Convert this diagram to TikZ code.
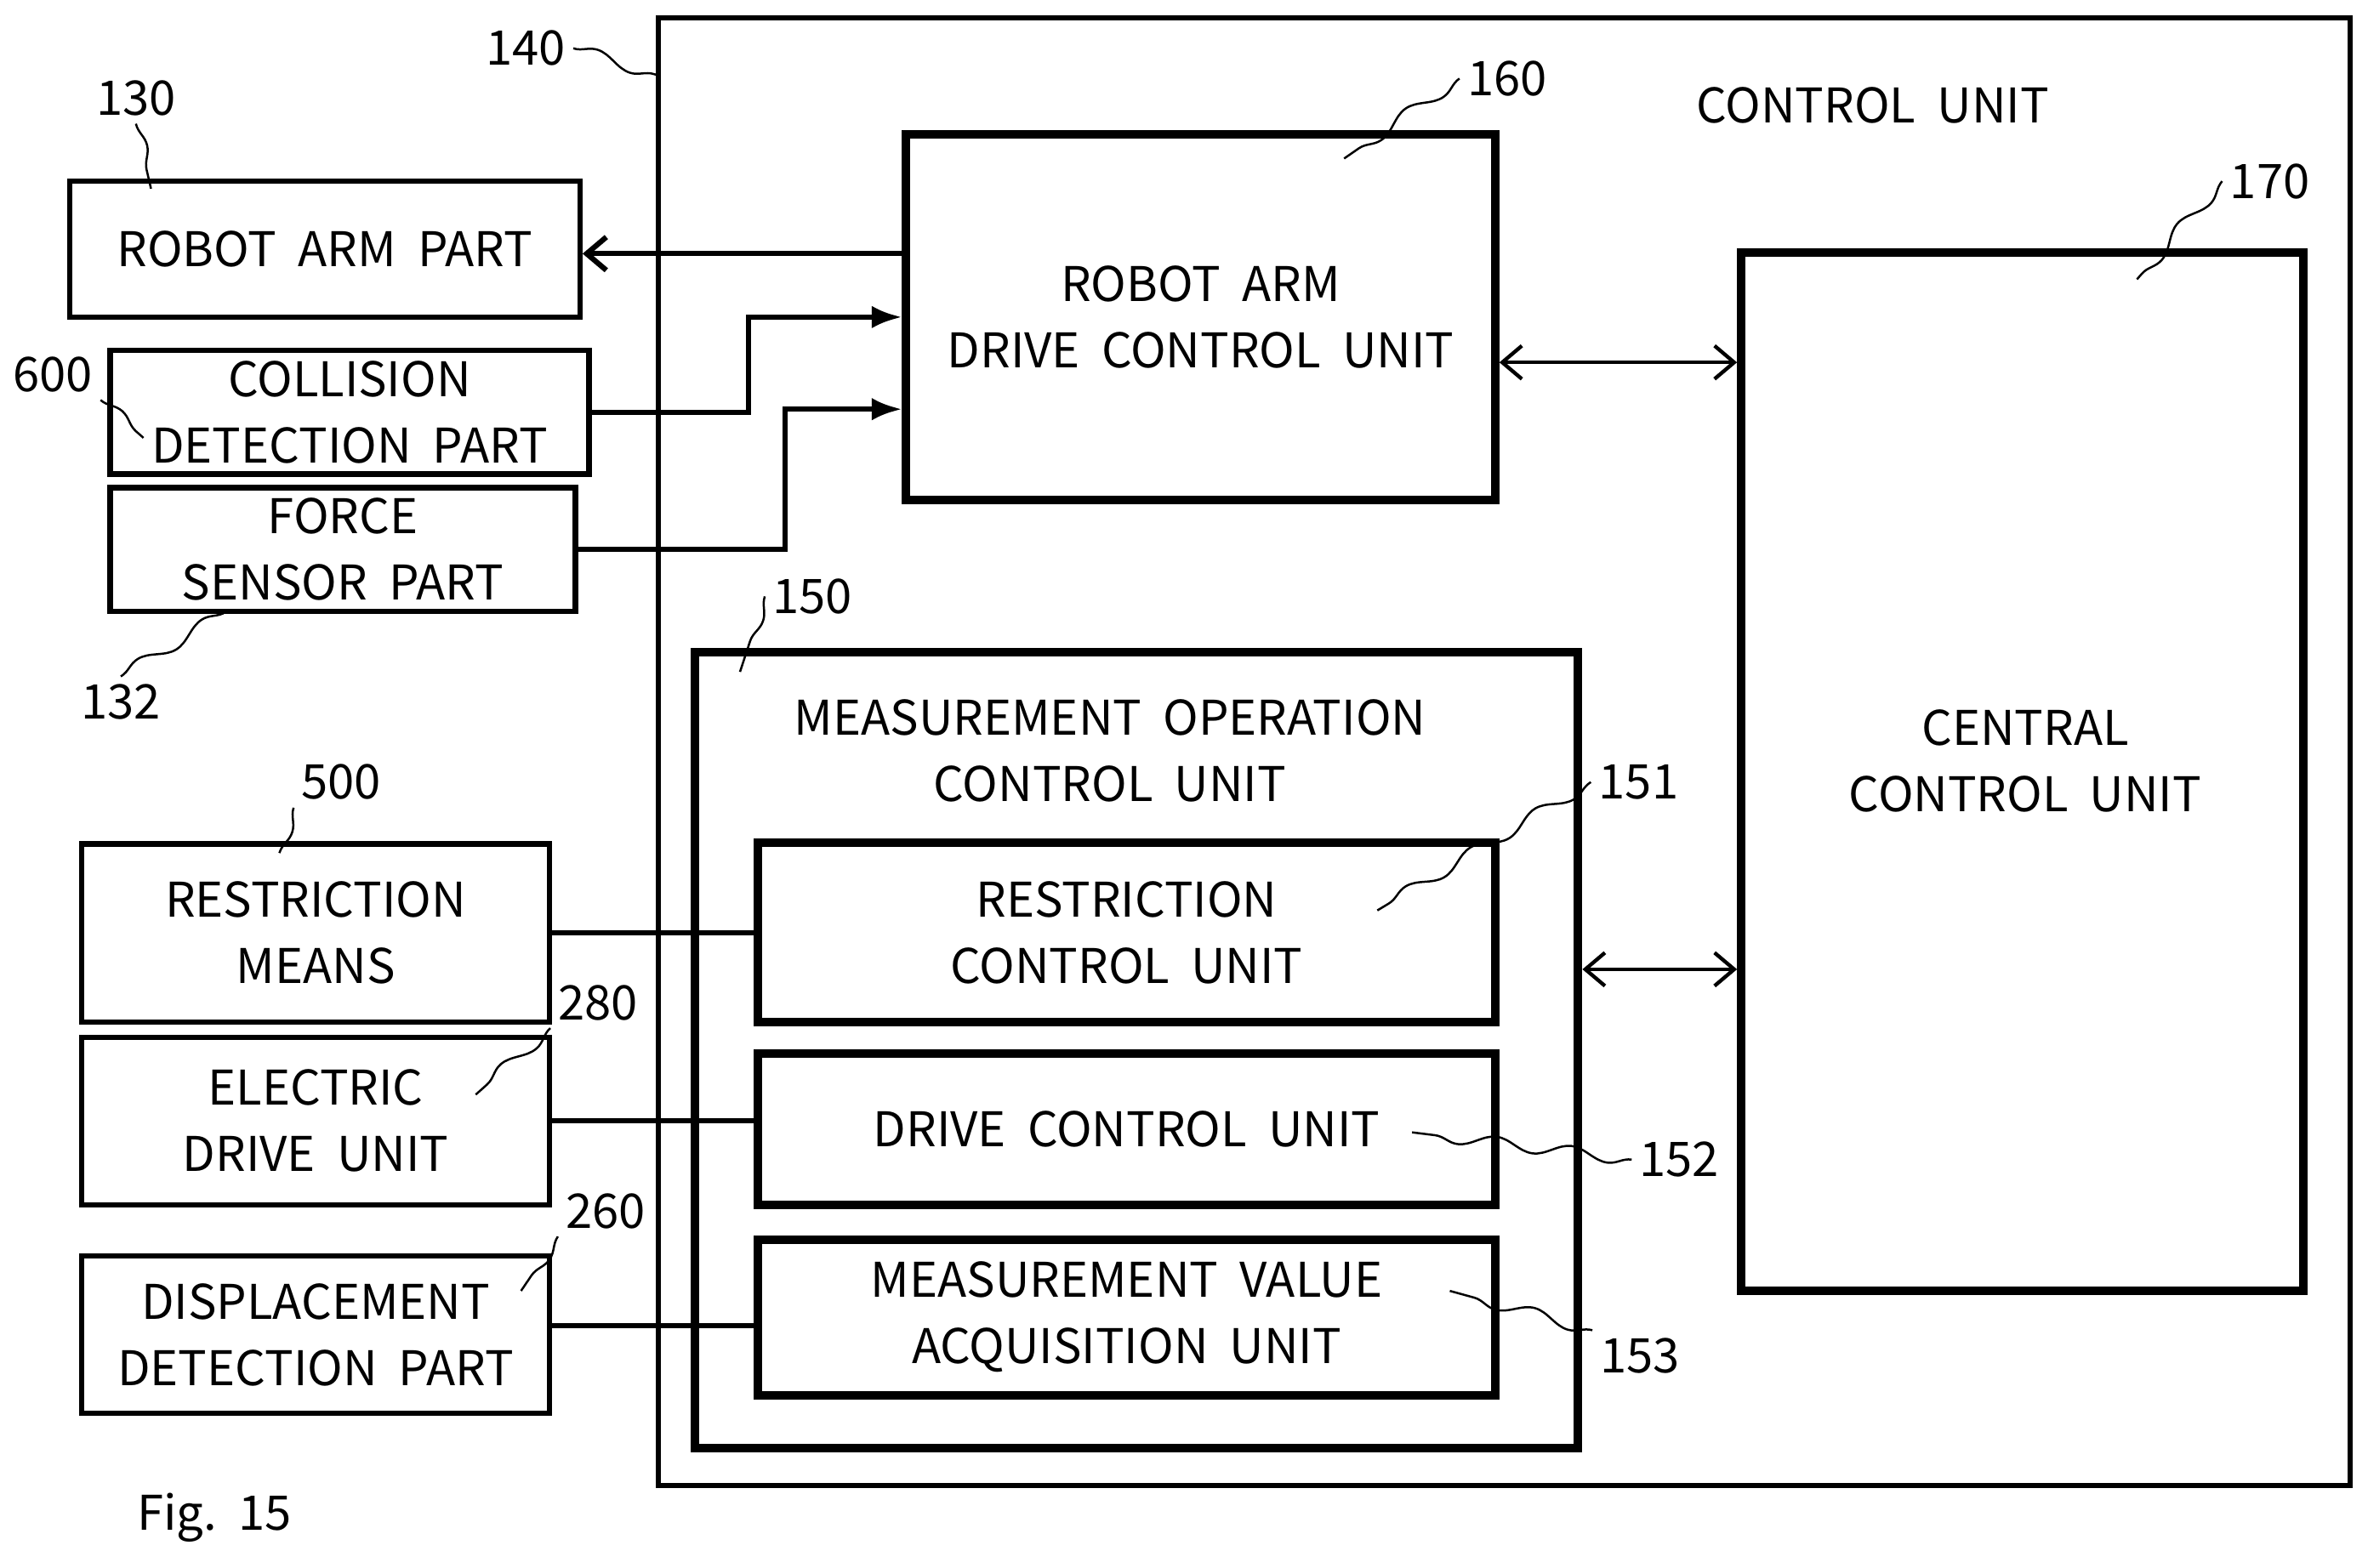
\documentclass[tikz,border=0pt]{standalone}
\usepackage{fontspec}
\setmainfont{Noto Sans CJK JP}
\usetikzlibrary{arrows.meta, calc, decorations.pathmorphing}

\tikzset{
  blk/.style={draw, line width=1pt, align=center, inner sep=0pt},
  bold/.style={draw, line width=1.6pt, align=center, inner sep=0pt},
  lead/.style={decorate, decoration={snake, amplitude=0.4mm, segment length=5mm}, line width=0.4pt},
  ref/.style={inner sep=1pt},
  >={Straight Barb[length=1.3mm, width=2.2mm]}
}

\begin{document}
\begin{tikzpicture}[font=\fontsize{9}{12.5}\selectfont, line width=1pt]
\useasboundingbox (0,0) rectangle (15.68,-10.38);

% outer unit and external parts
\path (9.96,-4.98) node[blk, minimum width=11.20cm, minimum height=9.72cm] (ctrl) {}
      (2.15,-1.65) node[blk, minimum width=3.38cm, minimum height=0.90cm] (arm) {ROBOT~~ARM~~PART}
      (2.315,-2.73) node[blk, minimum width=3.17cm, minimum height=0.82cm] (coll) {COLLISION\\DETECTION~~PART}
      (2.27,-3.64) node[blk, minimum width=3.08cm, minimum height=0.82cm] (force) {FORCE\\SENSOR~~PART}
      (2.09,-6.18) node[blk, minimum width=3.10cm, minimum height=1.18cm] (rmeans) {RESTRICTION\\MEANS}
      (2.09,-7.425) node[blk, minimum width=3.10cm, minimum height=1.11cm] (edrive) {ELECTRIC\\DRIVE~~UNIT}
      (2.09,-8.84) node[blk, minimum width=3.10cm, minimum height=1.04cm] (disp) {DISPLACEMENT\\DETECTION~~PART};

% units inside the control unit
\path (7.95,-2.10) node[bold, minimum width=3.90cm, minimum height=2.42cm] (radc) {ROBOT~~ARM\\DRIVE~~CONTROL~~UNIT}
      (13.39,-5.11) node[bold, minimum width=3.72cm, minimum height=6.88cm] (cen) {}
      (7.525,-6.955) node[bold, minimum width=5.85cm, minimum height=5.27cm] (meas) {}
      (7.46,-6.175) node[bold, minimum width=4.88cm, minimum height=1.19cm] (rctl) {RESTRICTION\\CONTROL~~UNIT}
      (7.46,-7.48) node[bold, minimum width=4.88cm, minimum height=1.00cm] (dctl) {DRIVE~~CONTROL~~UNIT}
      (7.46,-8.725) node[bold, minimum width=4.88cm, minimum height=1.03cm] (mva) {MEASUREMENT~~VALUE\\ACQUISITION~~UNIT};

\node[align=center] (cenlbl) at (13.41,-5.04) {CENTRAL\\CONTROL~~UNIT};
\node[align=center] (measlbl) at (7.35,-4.97) {MEASUREMENT~~OPERATION\\CONTROL~~UNIT};
\node (ctrllbl) at (12.40,-0.70) {CONTROL~~UNIT};
\node (fig) at (1.42,-10.05) {Fig.~~15};

% connectors
\draw[->] (radc.west |- 0,-1.68) -- (arm.east |- 0,-1.68);
\draw[-{Latex[length=2mm]}] (coll.east) -- ++(1.04,0) |- (radc.west);
\draw[-{Latex[length=2mm]}] (force.east) -- ++(1.37,0) |- ($(radc.west)+(0,-0.61)$);
\draw[line width=0.7pt, <->] ($(radc.east)+(0,-0.30)$) -- ($(radc.east -| cen.west)+(0,-0.30)$);
\draw[line width=0.7pt, <->] ($(meas.east)+(0,0.535)$) -- ($(meas.east -| cen.west)+(0,0.535)$);
\draw (rmeans.east) -- (rmeans.east -| rctl.west);
\draw (edrive.east) -- (edrive.east -| dctl.west);
\draw (disp.east |- 0,-8.78) -- (mva.west |- 0,-8.78);

% reference numerals
\path (0.90,-0.65) node[ref] (n130) {130}
      (0.35,-2.48) node[ref] (n600) {600}
      (0.80,-4.65) node[ref] (n132) {132}
      (3.48,-0.32) node[ref] (n140) {140}
      (9.98,-0.52) node[ref] (n160) {160}
      (15.03,-1.20) node[ref] (n170) {170}
      (5.38,-3.95) node[ref] (n150) {150}
      (10.85,-5.18) node[ref] (n151) {151}
      (11.12,-7.68) node[ref] (n152) {152}
      (10.86,-8.98) node[ref] (n153) {153}
      (2.26,-5.18) node[ref] (n500) {500}
      (3.96,-6.64) node[ref] (n280) {280}
      (4.01,-8.02) node[ref] (n260) {260};

\draw[lead] (n130.south) -- (1.00,-1.25);
\draw[lead] (n600.south east) -- (0.95,-2.90);
\draw[lead] (n132.north) -- (1.50,-4.05);
\draw[lead] (n140.east) -- (4.36,-0.50);
\draw[lead] (n160.west) -- (8.90,-1.05);
\draw[lead] (n170.west) -- (14.15,-1.85);
\draw[lead] (n150.west) -- (4.90,-4.45);
\draw[lead] (n151.west) -- (9.12,-6.03);
\draw[lead] (n152.west) -- (9.35,-7.50);
\draw[lead] (n153.north west) -- (9.60,-8.55);
\draw[lead] (n500.south west) -- (1.85,-5.65);
\draw[lead] (n280.south west) -- (3.15,-7.25);
\draw[lead] (n260.south west) -- (3.45,-8.55);
\end{tikzpicture}
\end{document}
